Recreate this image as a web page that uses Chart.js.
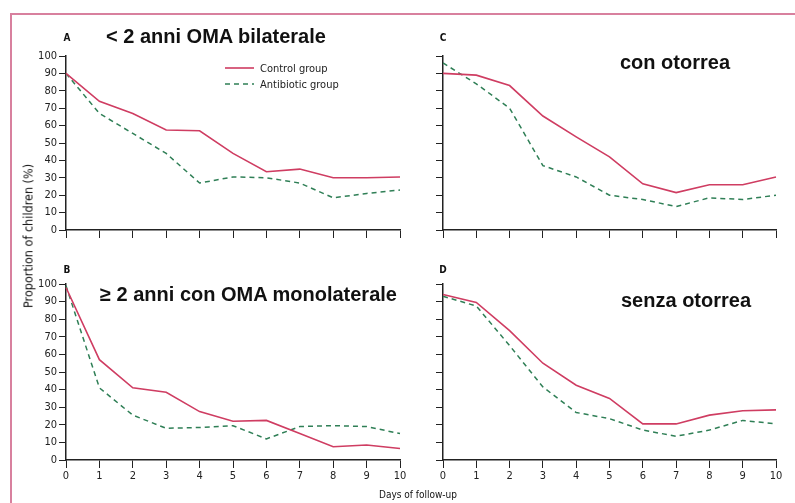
<!DOCTYPE html>
<html lang="it">
<head>
    <meta charset="UTF-8">
    <title>OMA - follow-up</title>
    <script src="https://cdn.jsdelivr.net/npm/chart.js"></script>
    <style>
        body { margin: 0; background: #fff; width: 795px; height: 503px; overflow: hidden; position: relative; }
        .frame { position: absolute; left: 10px; top: 13px; width: 900px; height: 600px;
                 border-left: 2px solid #d8809e; border-top: 2px solid #d8809e; }
        canvas { position: absolute; }
        .txt { position: absolute; white-space: nowrap; color: #111; }
        .title { font: bold 20px "Liberation Sans", Arial, sans-serif; transform: translateY(-50%); }
        .letter { font: bold 10px "DejaVu Sans Condensed", sans-serif; transform: translate(-50%, -50%); }
        .small { font: 11px "DejaVu Sans Condensed", sans-serif; }
        .legend { position: absolute; left: 225px; top: 60px; font: 11px "DejaVu Sans Condensed", sans-serif; color: #222; }
        .legend div { height: 16px; display: flex; align-items: center; }
        .legend svg { margin-right: 6px; }
    </style>
</head>
<body>
    <div class="frame"></div>

    <canvas id="chartA" width="410" height="210" style="left:0;top:40px"></canvas>
    <canvas id="chartC" width="390" height="210" style="left:400px;top:40px"></canvas>
    <canvas id="chartB" width="410" height="220" style="left:0;top:270px"></canvas>
    <canvas id="chartD" width="390" height="220" style="left:400px;top:270px"></canvas>

    <div class="txt letter" style="left:67px;top:37px">A</div>
    <div class="txt letter" style="left:443px;top:37px">C</div>
    <div class="txt letter" style="left:67px;top:269px">B</div>
    <div class="txt letter" style="left:443px;top:269px">D</div>

    <div class="txt title" style="left:106px;top:36px">&lt; 2 anni OMA bilaterale</div>
    <div class="txt title" style="left:620px;top:62px">con otorrea</div>
    <div class="txt title" style="left:100px;top:294px">≥ 2 anni con OMA monolaterale</div>
    <div class="txt title" style="left:621px;top:300px">senza otorrea</div>

    <div class="txt small" style="left:28px;top:236px;font-size:12.5px;transform:translate(-50%,-50%) rotate(-90deg)">Proportion of children (%)</div>
    <div class="txt small" style="left:418px;top:494px;font-size:10px;transform:translate(-50%,-50%)">Days of follow-up</div>

    <div class="legend">
        <div><svg width="29" height="4"><line x1="0" y1="2" x2="29" y2="2" stroke="#cf3d62" stroke-width="1.6"/></svg>Control group</div>
        <div><svg width="29" height="4"><line x1="0" y1="2" x2="29" y2="2" stroke="#2f7f56" stroke-width="1.5" stroke-dasharray="5,4"/></svg>Antibiotic group</div>
    </div>

    <script>
        // giorni di follow-up (asse x)
        const days = ["0", "1", "2", "3", "4", "5", "6", "7", "8", "9", "10"];
        const yTicks = [0, 10, 20, 30, 40, 50, 60, 70, 80, 90, 100];

        // A: < 2 anni OMA bilaterale
        const controlA    = [90, 74, 67, 57.5, 57, 44, 33.5, 35, 30, 30, 30.5];
        const antibioticA = [90, 67, 55.5, 44, 27, 30.5, 30, 27, 18.5, 21, 23];
        // B: >= 2 anni con OMA monolaterale
        const controlB    = [98, 57, 41, 38.5, 27.5, 22, 22.5, 15, 7.5, 8.5, 6.5];
        const antibioticB = [99, 41, 25.5, 18, 18.5, 19.5, 12, 19, 19.5, 19, 15];
        // C: con otorrea
        const controlC    = [90, 89, 83, 65.5, 53.5, 42, 26.5, 21.5, 26, 26, 30.5];
        const antibioticC = [96, 84, 70, 37, 30.5, 20, 17.5, 13.5, 18.5, 17.5, 20];
        // D: senza otorrea
        const controlD    = [94, 89.5, 73.5, 55, 42.5, 35, 20.5, 20.5, 25.5, 28, 28.5];
        const antibioticD = [93, 87.5, 65, 41.5, 27, 23.5, 17, 13.5, 17, 22.5, 20.5];

        const tickFont = { family: "'DejaVu Sans Condensed', sans-serif", size: 11 };

        function makeChart(id, control, antibiotic, opts) {
            const ctx = document.getElementById(id).getContext("2d");
            return new Chart(ctx, {
                type: "line",
                data: {
                    labels: days,
                    datasets: [
                        {
                            label: "Control group",
                            data: control,
                            borderColor: "#cf3d62",
                            borderWidth: 1.6,
                            pointRadius: 0,
                            fill: false,
                            tension: 0,
                        },
                        {
                            label: "Antibiotic group",
                            data: antibiotic,
                            borderColor: "#2f7f56",
                            borderWidth: 1.5,
                            borderDash: [5, 4],
                            pointRadius: 0,
                            fill: false,
                            tension: 0,
                        },
                    ],
                },
                options: {
                    responsive: false,
                    animation: false,
                    layout: { padding: { left: 0, top: opts.top, right: opts.right, bottom: 0 } },
                    plugins: { legend: { display: false }, tooltip: { enabled: false } },
                    scales: {
                        x: {
                            offset: false,
                            grid: { display: true, drawOnChartArea: false, drawTicks: true, tickLength: 8, color: "#222", offset: false },
                            border: { display: true, color: "#222", width: 1.5 },
                            ticks: { display: opts.xLabels, font: tickFont, color: "#222", padding: 2, maxRotation: 0, autoSkip: false },
                            afterFit: (s) => { s.height = opts.xHeight; },
                        },
                        y: {
                            min: 0,
                            max: 100,
                            afterBuildTicks: (s) => { s.ticks = yTicks.map(v => ({ value: v })); },
                            grid: { display: true, drawOnChartArea: false, drawTicks: true, tickLength: 7, color: "#222" },
                            border: { display: true, color: "#222", width: 1.5 },
                            ticks: { display: opts.yLabels, font: tickFont, color: "#222", padding: 2 },
                            afterFit: (s) => { s.width = opts.yWidth; },
                        },
                    },
                },
            });
        }

        makeChart("chartA", controlA, antibioticA, { top: 16, right: 10, xHeight: 20, yWidth: 66, xLabels: false, yLabels: true });
        makeChart("chartC", controlC, antibioticC, { top: 16, right: 14, xHeight: 20, yWidth: 43, xLabels: false, yLabels: false });
        makeChart("chartB", controlB, antibioticB, { top: 14, right: 10, xHeight: 30, yWidth: 66, xLabels: true, yLabels: true });
        makeChart("chartD", controlD, antibioticD, { top: 14, right: 14, xHeight: 30, yWidth: 43, xLabels: true, yLabels: false });
    </script>
</body>
</html>
